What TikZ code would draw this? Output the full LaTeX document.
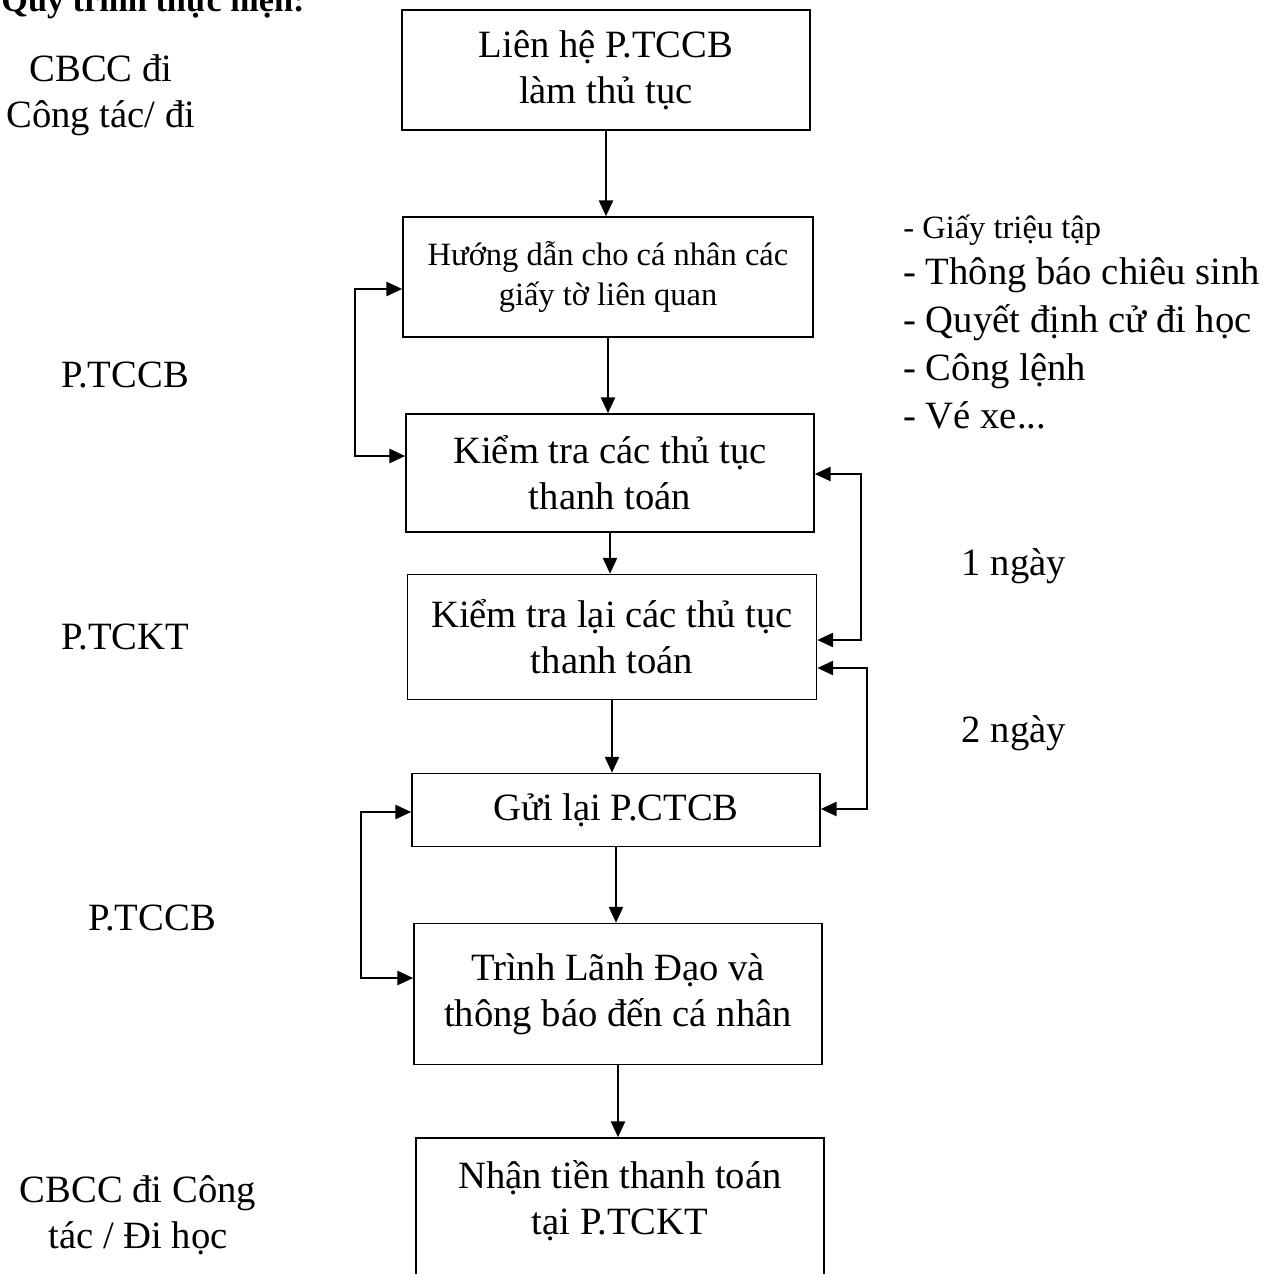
\documentclass[tikz,border=0pt]{standalone}
\usepackage{fontspec}
\setmainfont{Liberation Serif}
\usetikzlibrary{arrows.meta,calc}

\begin{document}
\begin{tikzpicture}[x=0.02cm,y=-0.02cm,
  font=\fontsize{22}{26}\selectfont,
  procbox/.style 2 args={draw,line width=0.9pt,align=center,inner sep=0pt,
    minimum width=#1*0.02cm,minimum height=#2*0.02cm},
  flow/.style={line width=1.3pt,-{Triangle[length=9pt,width=8pt]}},
  dflow/.style={line width=1.3pt,{Triangle[length=9pt,width=8pt]}-{Triangle[length=9pt,width=8pt]}},
  lbl/.style={align=center,inner sep=0pt}]
\useasboundingbox (0,0) rectangle (1270,1274);

% title, cut by the page edge
\node[anchor=base west,inner sep=0pt,font=\fontsize{19.5}{24}\selectfont\bfseries] (title) at (1,12) {Quy trình thực hiện:};

% steps
\node[procbox={408}{120}] (b1) at (606,70) {Liên hệ P.TCCB\\làm thủ tục};
\node[procbox={410}{120},font=\fontsize{18.5}{23}\selectfont] (b2) at (608,277) {Hướng dẫn cho cá nhân các\\giấy tờ liên quan};
\node[procbox={408}{118}] (b3) at (610,473) {Kiểm tra các thủ tục\\thanh toán};
\node[procbox={409}{125}] (b4) at (612,637) {Kiểm tra lại các thủ tục\\thanh toán};
\node[procbox={408}{73}] (b5) at (616,810) {Gửi lại P.CTCB};
\node[procbox={408}{141}] (b6) at (618,994) {Trình Lãnh Đạo và\\thông báo đến cá nhân};
\node[procbox={408}{164}] (b7) at (620,1220) {Nhận tiền thanh toán\\tại P.TCKT\\\mbox{}};

% main flow
\draw[flow] (b1.south) -- (b1.south |- b2.north);
\draw[flow] (b2.south) -- (b2.south |- b3.north);
\draw[flow] (b3.south) -- (b3.south |- b4.north);
\draw[flow] (b4.south) -- (b4.south |- b5.north);
\draw[flow] (b5.south) -- (b5.south |- b6.north);
\draw[flow] (b6.south) -- (b6.south |- b7.north);

% back and forth
\draw[dflow] ($(b2.west)+(0,12)$) -- ++(-47,0) |- ($(b3.west)+(0,-17)$);
\draw[dflow] ($(b3.east)+(0,1)$) -- ++(46,0) |- ($(b4.east)+(0,3)$);
\draw[dflow] ($(b4.east)+(0,31)$) -- ++(50,0) |- ($(b5.east)+(0,-1)$);
\draw[dflow] ($(b5.west)+(0,2)$) -- ++(-50,0) |- ($(b6.west)+(0,-16)$);

% who does it
\node[lbl] (cbcc1) at (101,95) {CBCC đi\\Công tác/ đi};
\node[lbl] (tccb1) at (125,375) {P.TCCB};
\node[lbl] (tckt) at (125,637) {P.TCKT};
\node[lbl] (tccb2) at (152,918) {P.TCCB};
\node[lbl] (cbcc2) at (138,1215) {CBCC đi Công\\tác / Đi học};

% time
\node[lbl] (ngay1) at (1014,566) {1 ngày};
\node[lbl] (ngay2) at (1014,733) {2 ngày};

% papers
\node[anchor=base west,inner sep=0pt,font=\fontsize{18.5}{23}\selectfont] (doc0) at (903,238) {- Giấy triệu tập};
\foreach \t [count=\i] in {Thông báo chiêu sinh,Quyết định cử đi học,Công lệnh,Vé xe.{}.{}.}
  \node[anchor=base west,inner sep=0pt] (doc\i) at (903,236+48*\i) {- \t};
\end{tikzpicture}
\end{document}
